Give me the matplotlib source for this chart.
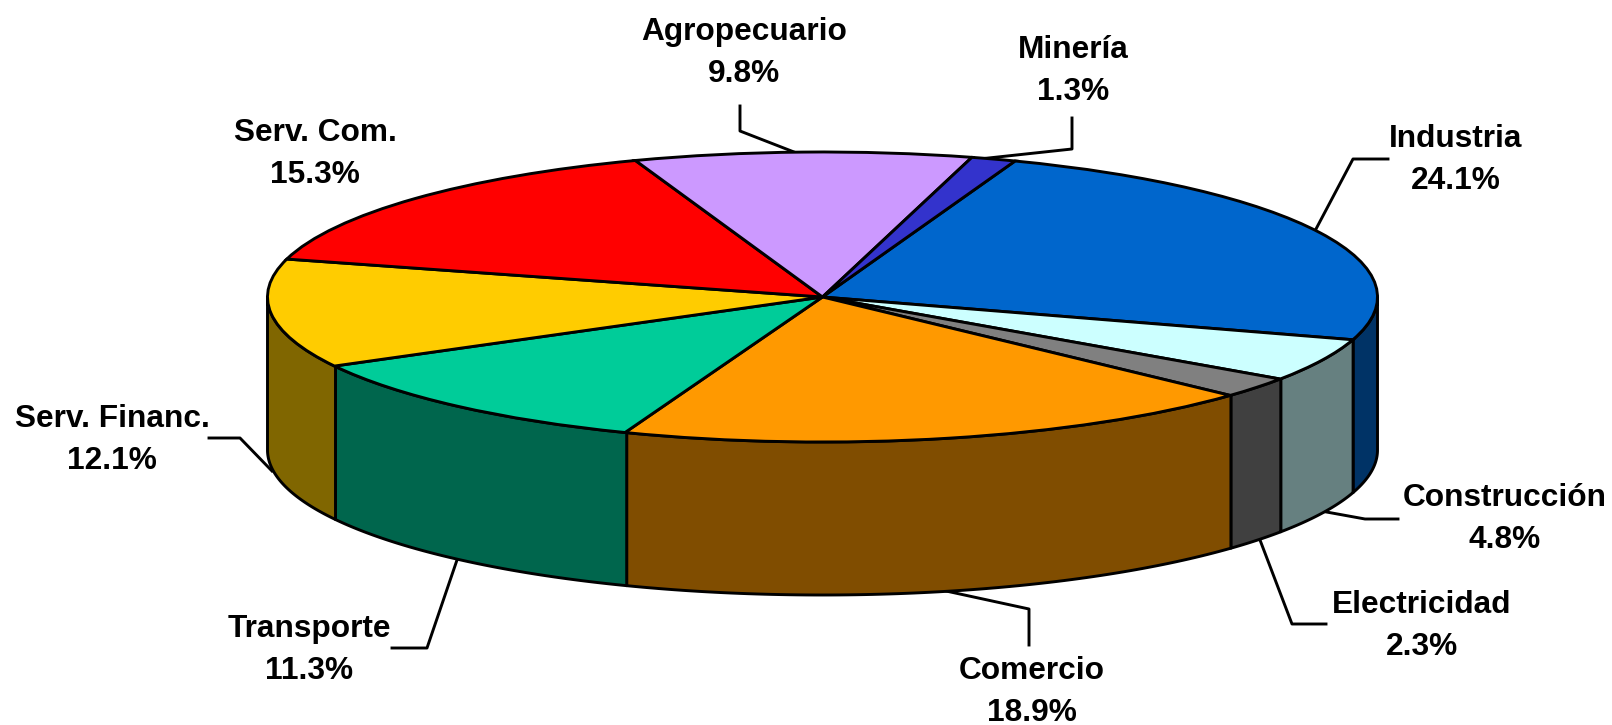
import numpy as np
import matplotlib
matplotlib.use("Agg")
import matplotlib.pyplot as plt
from matplotlib.patches import Polygon

sectors = ["Industria", "Construcción", "Electricidad", "Comercio", "Transporte",
           "Serv. Financ.", "Serv. Com.", "Agropecuario", "Minería"]
shares = [24.1, 4.8, 2.3, 18.9, 11.3, 12.1, 15.3, 9.8, 1.3]
top_colors = ["#0066CC", "#CCFFFF", "#808080", "#FF9900", "#00CC99",
              "#FFCC00", "#FF0000", "#CC99FF", "#3333CC"]
side_colors = ["#003366", "#668080", "#404040", "#804D00", "#00664D",
               "#806600", "#800000", "#664D80", "#1A1A66"]

W, H = 1612, 725
CX, CY, RX, RY, DEPTH = 822.5, 297, 555, 145, 153
START = 69.7
LW = 2.1

plt.rcParams['font.family'] = ['Liberation Sans', 'DejaVu Sans']
fig = plt.figure(figsize=(W / 100, H / 100), dpi=100, facecolor="white")
ax = fig.add_axes([0, 0, 1, 1])

ax.pie(shares, colors=top_colors, startangle=START, counterclock=False, radius=1,
       wedgeprops=dict(edgecolor="black", linewidth=LW, zorder=3))
ax.set_aspect("auto")
ax.set_xlim(-CX / RX, (W - CX) / RX)
ax.set_ylim(-(H - CY) / RY, CY / RY)
ax.axis("off")

depth = DEPTH / RY
edges = START - np.cumsum([0] + shares) * 3.6
for i in range(len(shares)):
    a1, a0 = edges[i], edges[i + 1]
    lo, hi = max(a0, -180), min(a1, 0)
    if hi <= lo:
        continue
    t = np.radians(np.linspace(lo, hi, 80))
    x, y = np.cos(t), np.sin(t)
    pts = np.r_[np.c_[x, y], np.c_[x[::-1], y[::-1] - depth]]
    ax.add_patch(Polygon(pts, closed=True, facecolor=side_colors[i], edgecolor="black",
                         linewidth=LW, zorder=2, joinstyle="round"))

def px(x, y):
    return x / W, 1 - y / H

leaders = [
    [(1388, 159), (1353, 159), (1316, 229)],
    [(1398, 519), (1365, 519), (1321, 511)],
    [(1326, 624), (1292, 624), (1260, 540)],
    [(1029, 645), (1029, 609), (946, 591)],
    [(392, 648), (427, 648), (457, 560)],
    [(209, 438), (240, 438), (272, 471)],
    [(740, 106), (740, 131), (794, 152)],
    [(1072, 118), (1072, 149), (970, 160)],
]
for line in leaders:
    xy = np.array([px(*p) for p in line])
    ax.plot(xy[:, 0], xy[:, 1], transform=fig.transFigure, color="black", lw=LW,
            zorder=1, clip_on=False)

label_pos = [(1456, 160), (1505, 519), (1422, 626), (1032, 692), (309, 650),
             (112, 440), (315, 154), (744, 53), (1073, 71)]
for name, val, (lx, ly) in zip(sectors, shares, label_pos):
    fx, fy = px(lx, ly)
    ax.text(fx, fy, f"{name}\n{val:.1f}%", transform=fig.transFigure, ha="center",
            va="center", fontsize=22.8, fontweight="bold", linespacing=1.53, color="black")

fig.savefig("out.png", dpi=100, facecolor="white")
